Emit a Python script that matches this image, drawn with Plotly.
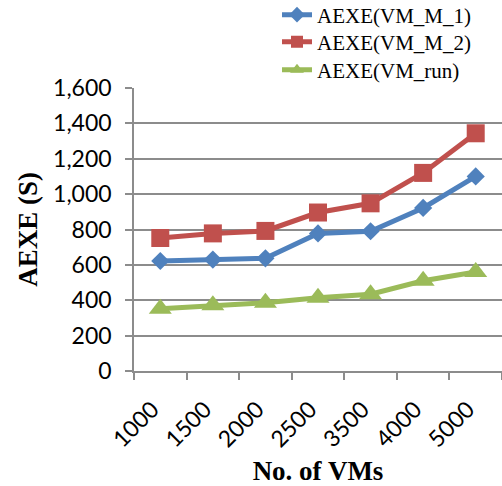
import plotly.graph_objects as go

categories = ["1000", "1500", "2000", "2500", "3500", "4000", "5000"]
vm_m_1 = [622, 630, 637, 778, 790, 922, 1100]
vm_m_2 = [752, 778, 792, 896, 948, 1120, 1344]
vm_run = [352, 372, 386, 414, 434, 510, 560]
y_ticks = [0, 200, 400, 600, 800, 1000, 1200, 1400, 1600]
y_tick_text = ["0", "200", "400", "600", "800", "1,000", "1,200", "1,400", "1,600"]

series = [
    ("AEXE(VM_M_1)", vm_m_1, "#4F81BD", "diamond", 14, "legend"),
    ("AEXE(VM_M_2)", vm_m_2, "#C0504D", "square", 18, "legend2"),
    ("AEXE(VM_run)", vm_run, "#9BBB59", "triangle-up", 20, "legend3"),
]

fig = go.Figure()
for name, vals, color, sym, sz, leg in series:
    fig.add_trace(go.Scatter(
        x=categories, y=vals, name=name, mode="lines+markers",
        line=dict(color=color, width=5),
        marker=dict(symbol=sym, size=sz, color=color),
        legend=leg,
    ))

def legend_at(center_px):
    return dict(
        xref="container", yref="container",
        x=277 / 502, y=1 - center_px / 486, xanchor="left", yanchor="middle",
        font=dict(family="Liberation Serif", size=21, color="black"),
        bgcolor="rgba(0,0,0,0)", itemsizing="constant",
    )

grid = "#8C8C8C"
fig.update_layout(
    width=502, height=486,
    margin=dict(l=134, r=0, t=88, b=115, autoexpand=False),
    paper_bgcolor="white", plot_bgcolor="white",
    showlegend=True,
    legend=legend_at(15),
    legend2=legend_at(42),
    legend3=legend_at(70),
    xaxis=dict(
        type="category", tickson="boundaries", ticks="outside", ticklen=7,
        tickcolor=grid, tickwidth=1.5, automargin=False,
        showline=True, linecolor=grid, linewidth=1.5,
        showgrid=False, tickangle=-45, ticklabelstandoff=14,
        ticklabelshift=-8,
        tickfont=dict(family="Lato", size=23, color="black"),
        title=dict(text="<b>No. of VMs</b>",
                   font=dict(family="Liberation Serif", size=27, color="black"),
                   standoff=36),
        range=[-0.5, 6.5],
    ),
    yaxis=dict(
        range=[0, 1600], tickvals=y_ticks, ticktext=y_tick_text,
        ticks="outside", ticklen=7, tickcolor=grid, tickwidth=1.5,
        showline=True, linecolor=grid, linewidth=1.5, automargin=False,
        showgrid=True, gridcolor=grid, gridwidth=1.5,
        zeroline=False, ticklabelstandoff=9,
        tickfont=dict(family="Lato", size=23, color="black"),
        title=dict(text="<b>AEXE (S)</b>",
                   font=dict(family="Liberation Serif", size=27, color="black"),
                   standoff=8),
    ),
)

fig.write_html("out.html", config={"displayModeBar": False},
               post_script="document.body.style.margin='0';")
